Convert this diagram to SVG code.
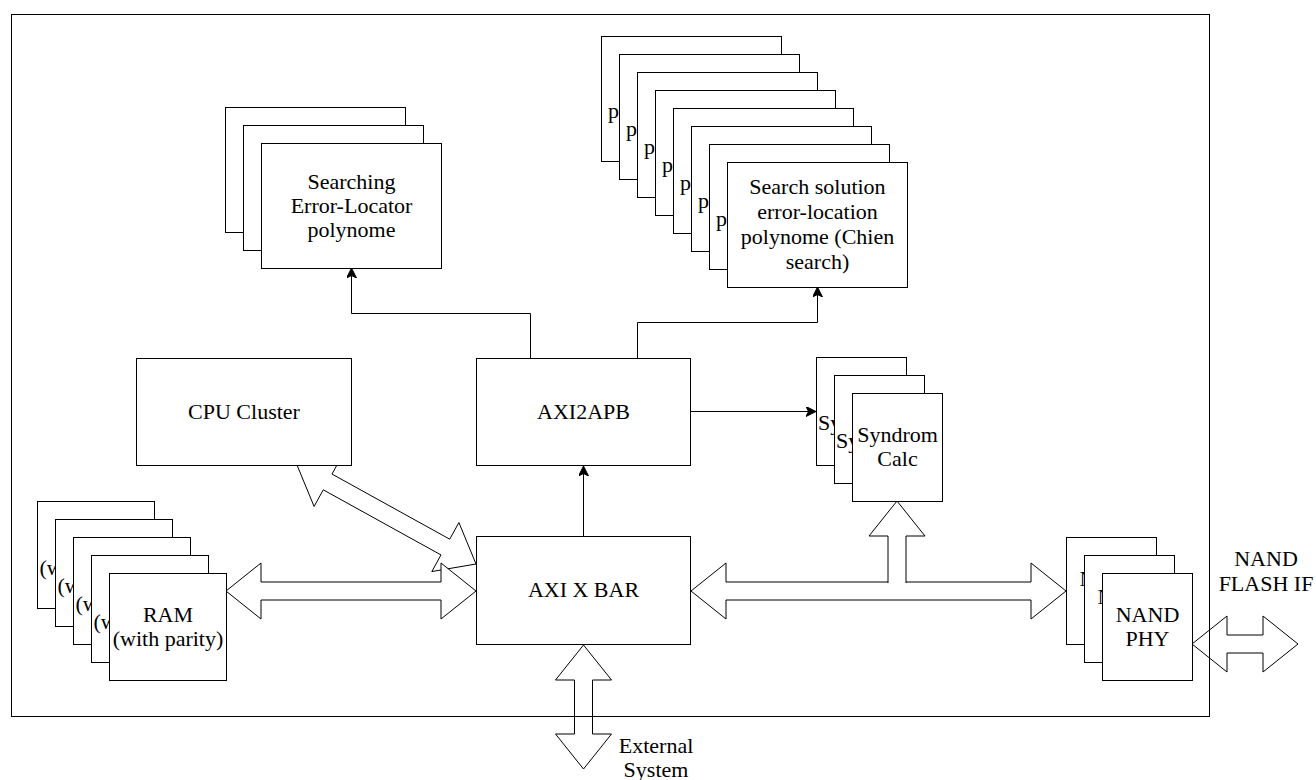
<svg xmlns="http://www.w3.org/2000/svg" width="1316" height="780" viewBox="0 0 1316 780">
<defs>
<style>
.box{fill:#fff;stroke:#000;stroke-width:1}
.blk{fill:#fff;stroke:#000;stroke-width:1;stroke-linejoin:miter}
.wire{fill:none;stroke:#000;stroke-width:1}
.lbl{font-family:"Liberation Serif","DejaVu Serif",serif;font-size:22px;text-anchor:middle;fill:#000}
.frag{font-family:"Liberation Serif","DejaVu Serif",serif;font-size:22px;text-anchor:start;fill:#000}
</style>
<marker id="arr" viewBox="0 0 10 10" markerWidth="10" markerHeight="10" refX="10" refY="5" orient="auto" markerUnits="userSpaceOnUse">
<path d="M0,0 L10,5 L0,10 L2.5,5 z" fill="#000" stroke="#000" stroke-width="1"/>
</marker>
</defs>
<rect x="0" y="0" width="1316" height="780" fill="#fff"/>

<g id="connectors">
<path class="blk" d="M297,465 L314.08,506.44 L323.27,489.82 L441.01,554.94 L431.82,571.56 L476,564 L458.92,522.56 L449.73,539.18 L331.99,474.06 L341.18,457.44 Z"/>
<path class="blk" d="M226,591 L261,563 L261,582 L441,582 L441,563 L476,591 L441,619 L441,600 L261,600 L261,619 Z"/>
<path class="blk" d="M691,591 L726,563 L726,582 L1031,582 L1031,563 L1066,591 L1031,619 L1031,600 L726,600 L726,619 Z"/>
<path class="blk" d="M888,583 V536 H869 L897,501 L925,536 H906 V583"/>
<path class="blk" d="M583.5,645 L611.5,680 L592.5,680 L592.5,734 L611.5,734 L583.5,769 L555.5,734 L574.5,734 L574.5,680 L555.5,680 Z"/>
<path class="blk" d="M1192,644 L1227,616 L1227,635 L1263,635 L1263,616 L1298,644 L1263,672 L1263,653 L1227,653 L1227,672 Z"/>
<path class="wire" d="M583.5,536 V466" marker-end="url(#arr)"/>
<path class="wire" d="M691,411.5 H816" marker-end="url(#arr)"/>
<path class="wire" d="M530.5,358 V313.5 H351.5 V268" marker-end="url(#arr)"/>
<path class="wire" d="M637.5,358 V322.5 H817.5 V287" marker-end="url(#arr)"/>
</g>

<g id="error-locator">
<rect class="box" x="225.5" y="107.5" width="180" height="125"/>
<rect class="box" x="243.5" y="125.5" width="180" height="125"/>
<rect class="box" x="261.5" y="143.5" width="180" height="125"/>
<text class="lbl"><tspan x="351.5" y="188.5">Searching</tspan><tspan x="351.5" y="212.5">Error-Locator</tspan><tspan x="351.5" y="236.5">polynome</tspan></text>
</g>

<g id="chien-search">
<g><rect class="box" x="601.5" y="36.5" width="180" height="125"/><text class="frag" x="608" y="118">p</text></g>
<g><rect class="box" x="619.5" y="54.5" width="180" height="125"/><text class="frag" x="626" y="136">p</text></g>
<g><rect class="box" x="637.5" y="72.5" width="180" height="125"/><text class="frag" x="644" y="154">p</text></g>
<g><rect class="box" x="655.5" y="90.5" width="180" height="125"/><text class="frag" x="662" y="172">p</text></g>
<g><rect class="box" x="673.5" y="108.5" width="180" height="125"/><text class="frag" x="680" y="190">p</text></g>
<g><rect class="box" x="691.5" y="126.5" width="180" height="125"/><text class="frag" x="698" y="208">p</text></g>
<g><rect class="box" x="709.5" y="144.5" width="180" height="125"/><text class="frag" x="716" y="226">p</text></g>
<g><rect class="box" x="727.5" y="162.5" width="180" height="125"/><text class="lbl"><tspan x="817.5" y="194">Search solution</tspan><tspan x="817.5" y="219">error-location</tspan><tspan x="817.5" y="244">polynome (Chien</tspan><tspan x="817.5" y="269">search)</tspan></text></g>
</g>

<g id="cpu-cluster">
<rect class="box" x="136.5" y="358.5" width="215" height="107"/>
<text class="lbl" x="244" y="418.5">CPU Cluster</text>
</g>

<g id="axi2apb">
<rect class="box" x="476.5" y="358.5" width="214" height="107"/>
<text class="lbl" x="583.5" y="419">AXI2APB</text>
</g>

<g id="syndrom-calc">
<g><rect class="box" x="816.5" y="357.5" width="90" height="108"/><text class="frag" x="818" y="430">Sy</text></g>
<g><rect class="box" x="834.5" y="375.5" width="90" height="108"/><text class="frag" x="836" y="448">Sy</text></g>
<g><rect class="box" x="852.5" y="393.5" width="90" height="108"/><text class="lbl"><tspan x="897.5" y="442">Syndrom</tspan><tspan x="897.5" y="466">Calc</tspan></text></g>
</g>

<g id="axi-xbar">
<rect class="box" x="476.5" y="536.5" width="214" height="108"/>
<text class="lbl" x="583.5" y="597">AXI X BAR</text>
</g>

<g id="ram">
<g><rect class="box" x="37.5" y="501.5" width="117" height="107"/><text class="frag" x="39.5" y="575">(w</text></g>
<g><rect class="box" x="55.5" y="519.5" width="117" height="107"/><text class="frag" x="57.5" y="593">(w</text></g>
<g><rect class="box" x="73.5" y="537.5" width="117" height="107"/><text class="frag" x="75.5" y="611">(w</text></g>
<g><rect class="box" x="91.5" y="555.5" width="117" height="107"/><text class="frag" x="93.5" y="629">(w</text></g>
<g><rect class="box" x="109.5" y="573.5" width="117" height="107"/><text class="lbl"><tspan x="168" y="621.5">RAM</tspan><tspan x="168" y="645.5">(with parity)</tspan></text></g>
</g>

<g id="nand-phy">
<g><rect class="box" x="1066.5" y="537.5" width="90" height="107"/><text class="frag" x="1079.5" y="585.5">N</text></g>
<g><rect class="box" x="1084.5" y="555.5" width="90" height="107"/><text class="frag" x="1097.5" y="603.5">N</text></g>
<g><rect class="box" x="1102.5" y="573.5" width="90" height="107"/><text class="lbl"><tspan x="1147.5" y="621.5">NAND</tspan><tspan x="1147.5" y="645.5">PHY</tspan></text></g>
</g>

<g id="frame">
<rect x="11.5" y="14.5" width="1198" height="702" fill="none" stroke="#000" stroke-width="1"/>
</g>

<g id="nand-flash-if">
<text class="lbl"><tspan x="1266" y="566">NAND</tspan><tspan x="1266" y="591">FLASH IF</tspan></text>
</g>

<g id="external-system">
<text class="lbl"><tspan x="656" y="753">External</tspan><tspan x="656" y="777">System</tspan></text>
</g>
</svg>
